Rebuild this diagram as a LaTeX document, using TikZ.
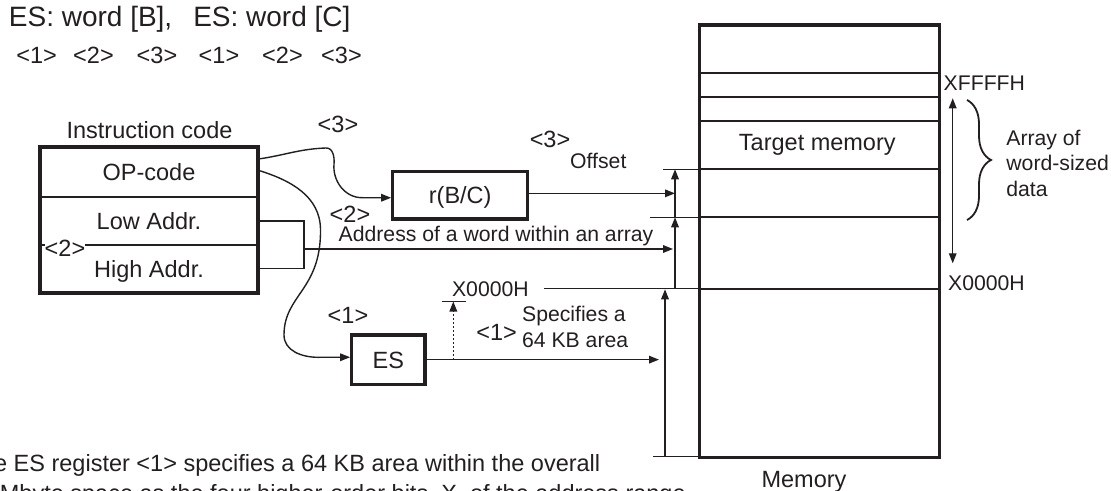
\documentclass[tikz,border=0pt]{standalone}
\usepackage{fontspec}
\setmainfont{Liberation Sans}
\usetikzlibrary{arrows.meta,decorations.pathreplacing}
\definecolor{ink}{HTML}{231F20}
\tikzset{
  every node/.style={text=ink, inner sep=0pt},
  head/.style={font=\fontsize{14}{17}\selectfont},
  lbl/.style={font=\fontsize{11.75}{14}\selectfont},
  sml/.style={font=\fontsize{10.6}{12.85}\selectfont},
  field/.style={lbl, draw=ink, line width=1.1pt, minimum width=108pt, text height=8.4pt, text depth=0pt},
  regbox/.style={lbl, draw=ink, line width=1.6pt, text height=8.4pt, text depth=0pt},
  wire/.style={draw=ink, line width=0.7pt},
  tip/.style={-{Triangle[length=5pt,width=3.8pt]}},
}
\begin{document}
\begin{tikzpicture}[x=0.5pt, y=-0.5pt]
  \useasboundingbox (0,0) rectangle (1111,491);
  \clip (0,0) rectangle (1111,491);
  % heading
  \node[head, anchor=base west] (title) at (8.5,27) {ES: word [B],\hspace{10.5pt}ES: word [C]};
  \foreach \x/\n [count=\i] in {36.7/1,93.5/2,157/3,219/1,282.5/2,341.5/3}
    \node[lbl, anchor=base] (tag\i) at (\x,64) {<\n>};
  % instruction code
  \node[lbl, anchor=base] (icode) at (149.5,138.4) {Instruction code};
  \node[field, minimum height=24.75pt] (op) at (149,172.25) {OP-code};
  \node[field, minimum height=24pt] (low) at (149,221) {Low Addr.};
  \node[field, minimum height=23.75pt] (high) at (149,268.75) {High Addr.};
  \draw[ink, line width=1.6pt] (op.north west) rectangle (high.south east);
  \node[lbl, fill=white, anchor=base] (twoa) at (65,256.7) {<2>};
  % registers
  \node[regbox, minimum width=67.5pt, minimum height=23.65pt] (reg) at (460.2,195.35) {r(B/C)};
  \node[regbox, minimum width=36.65pt, minimum height=24.65pt] (es) at (388.35,359.65) {ES};
  % memory
  \node[draw=ink, line width=1.6pt, minimum width=120pt, minimum height=216.15pt] (mem) at (819.3,241.15) {};
  \foreach \y in {72.7,97,121,169.3,217.3,289}
    \draw[ink, line width=1pt] (699.3,\y) -- (939.3,\y);
  \node[lbl, anchor=base] (target) at (817.3,150.1) {Target memory};
  \node[lbl, anchor=base] (memname) at (804,487.3) {Memory};
  \node[sml, anchor=base west] (topaddr) at (943.3,90.3) {XFFFFH};
  \node[sml, anchor=base west] (botaddr) at (947.7,291) {X0000H};
  \coordinate (arrtop) at (952.7,98.3);
  \coordinate (arrbot) at (952.7,263.3);
  \draw[wire, {Triangle[length=5pt,width=3.8pt]}-{Triangle[length=5pt,width=3.8pt]}] (arrtop) -- (arrbot);
  \draw[ink, line width=0.9pt, decorate, decoration={brace, amplitude=12pt}] (967,100) -- (967,220);
  \node[sml, anchor=west, align=left] (arraytxt) at (1006,163.3) {Array of\\word-sized\\data};
  % <3> offset
  \coordinate (c3in) at ([yshift=6.6pt]op.east);
  \coordinate (c3out) at ([yshift=-1.2pt]reg.west);
  \draw[wire, tip] (c3in) to[out=8,in=182] (326,148) to[out=2,in=85] (334,164)
    to[out=-95,in=180] (362,197.7) -- (c3out);
  \node[lbl, anchor=base] (tthree) at (338,133) {<3>};
  \coordinate (offbar) at (675,0);
  \draw[wire, tip] ([yshift=1pt]reg.east) -- ([yshift=1pt]reg.east -| offbar);
  \node[lbl, anchor=base] (othree) at (550,148) {<3>};
  \node[sml, anchor=base] (offset) at (598.3,168.6) {Offset};
  % <2> address
  \coordinate (brk) at (304,249);
  \coordinate (addrbar) at (673,0);
  \draw[wire] (low.east) -| (brk) |- (high.east);
  \draw[wire, tip] (brk) -- (brk -| addrbar);
  \node[lbl, anchor=base] (atwo) at (350,223) {<2>};
  \node[sml, anchor=base west] (addrtxt) at (338.3,242) {Address of a word within an array};
  \coordinate (lvl0) at (675,289);
  \coordinate (lvl1) at (675,217.3);
  \coordinate (lvl2) at (675,169.3);
  \draw[wire, tip] (lvl0) -- (lvl1);
  \draw[wire, tip] (lvl1) -- (lvl2);
  \draw[wire] (663.3,169.3) -- (699.3,169.3);
  \draw[wire] (650,217.3) -- (699.3,217.3);
  % <1> ES
  \coordinate (c1in) at ([yshift=1pt]op.east);
  \coordinate (c1out) at ([yshift=1.2pt]es.west);
  \draw[wire, tip] (c1in) to[out=-17,in=90] (320.5,230) .. controls (321,290) and (284,295) .. (284,335)
    to[out=-90,in=180] (318,357.3) -- (c1out);
  \node[lbl, anchor=base] (eone) at (348,323) {<1>};
  \coordinate (esend) at (659,359.65);
  \draw[wire, tip] (es.east) -- (esend);
  \coordinate (dotfoot) at (453.3,359.65);
  \coordinate (dottop) at (453.3,301.5);
  \draw[wire, dash pattern=on 1pt off 1pt, tip] (dotfoot) -- (dottop);
  \draw[wire] (441.7,301.5) -- (466,301.5);
  \node[sml, anchor=base west] (lowaddr) at (451.7,296) {X0000H};
  \draw[wire] (544,288.5) -- (699.3,288.5);
  \node[lbl, anchor=base] (sone) at (496.7,340) {<1>};
  \node[sml, anchor=west, align=left] (specifies) at (521.7,326.6) {Specifies a\\64 KB area};
  \coordinate (esfloor) at (665,456.7);
  \coordinate (esroof) at (665,289.3);
  \draw[wire, tip] (esfloor) -- (esroof);
  \draw[wire] (653,456.7) -- (699.3,456.7);
  % note
  \node[lbl, anchor=base west] (noteone) at (-33.7,471.7) {The ES register <1> specifies a 64 KB area within the overall};
  \node[lbl, anchor=base west] (notetwo) at (-0.5,501) {Mbyte space as the four higher-order bits, X, of the address range.};
\end{tikzpicture}
\end{document}
